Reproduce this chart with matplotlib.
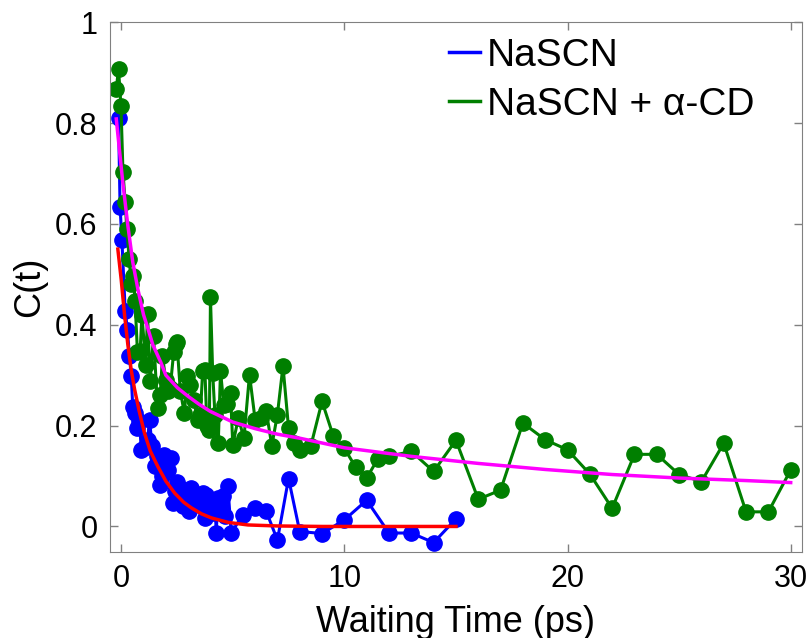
import matplotlib
matplotlib.use("Agg")
import matplotlib.pyplot as plt
from matplotlib.lines import Line2D

plt.rcParams['font.family'] = ['Liberation Sans', 'DejaVu Sans']

# NaSCN data
t_na = [-0.12, -0.05, 0.03, 0.18, 0.28, 0.37, 0.45, 0.52, 0.62, 0.73, 0.82, 0.9,
        1.0, 1.18, 1.27, 1.38, 1.5, 1.6, 1.72, 1.83, 1.94, 2.08, 2.24, 2.32, 2.42,
        2.52, 2.65, 2.75, 2.91, 3.02, 3.14, 3.25, 3.4, 3.55, 3.65, 3.74, 3.8, 3.95,
        4.1, 4.2, 4.26, 4.33, 4.45, 4.55, 4.63, 4.78, 4.93, 5.45, 6.0, 6.5, 7.0,
        7.5, 8.0, 9.0, 10.0, 11.0, 12.0, 13.0, 14.0, 15.0]
c_na = [0.81, 0.634, 0.569, 0.428, 0.39, 0.338, 0.299, 0.236, 0.225, 0.196, 0.21, 0.152,
        0.155, 0.172, 0.212, 0.16, 0.119, 0.14, 0.083, 0.1, 0.142, 0.112, 0.136, 0.047, 0.07,
        0.089, 0.076, 0.04, 0.06, 0.03, 0.076, 0.05, 0.056, 0.043, 0.066, 0.017, 0.063, 0.045,
        0.027, 0.05, -0.013, 0.056, 0.04, 0.06, 0.02, 0.08, -0.013, 0.023, 0.036, 0.03, -0.027,
        0.095, -0.01, -0.014, 0.013, 0.052, -0.013, -0.013, -0.032, 0.015]

# NaSCN + alpha-CD data
t_cd = [-0.22, -0.12, -0.01, 0.08, 0.18, 0.25, 0.36, 0.45, 0.55, 0.62, 0.73, 0.85,
        0.93, 1.1, 1.18, 1.3, 1.45, 1.63, 1.75, 1.85, 2.0, 2.08, 2.2, 2.35, 2.45,
        2.5, 2.65, 2.83, 2.97, 3.1, 3.25, 3.42, 3.55, 3.65, 3.75, 3.84, 3.95, 4.0,
        4.1, 4.2, 4.35, 4.45, 4.6, 4.74, 4.9, 5.0, 5.25, 5.5, 5.75, 6.0, 6.25, 6.5,
        6.75, 7.0, 7.25, 7.5, 7.75, 8.0, 8.5, 9.0, 9.5, 10.0, 10.5, 11.0, 11.5, 12.0,
        13.0, 14.0, 15.0, 16.0, 17.0, 18.0, 19.0, 20.0, 21.0, 22.0, 23.0, 24.0, 25.0,
        26.0, 27.0, 28.0, 29.0, 30.0]
c_cd = [0.867, 0.908, 0.834, 0.703, 0.643, 0.59, 0.53, 0.481, 0.496, 0.447, 0.345, 0.348,
        0.42, 0.321, 0.421, 0.289, 0.378, 0.235, 0.26, 0.338, 0.29, 0.268, 0.275, 0.345, 0.361,
        0.365, 0.268, 0.225, 0.298, 0.28, 0.25, 0.212, 0.222, 0.308, 0.311, 0.2, 0.192, 0.454,
        0.305, 0.222, 0.165, 0.308, 0.24, 0.242, 0.265, 0.162, 0.215, 0.175, 0.301, 0.212, 0.215,
        0.229, 0.16, 0.222, 0.318, 0.195, 0.165, 0.152, 0.16, 0.248, 0.18, 0.155, 0.118, 0.096,
        0.134, 0.139, 0.149, 0.109, 0.171, 0.054, 0.072, 0.205, 0.172, 0.152, 0.104, 0.036,
        0.143, 0.143, 0.103, 0.089, 0.165, 0.029, 0.029, 0.112]

# fit curves
t_fit_na = [-0.15, 0.0, 0.15, 0.3, 0.45, 0.6, 0.8, 1.04, 1.3, 1.64, 2.0, 2.4, 2.8,
            3.14, 3.6, 4.04, 4.8, 5.68, 7.0, 9.0, 15.0]
c_fit_na = [0.55, 0.49, 0.42, 0.36, 0.31, 0.272, 0.23, 0.186, 0.15, 0.119, 0.09, 0.066,
            0.048, 0.037, 0.025, 0.017, 0.008, 0.003, 0.001, 0.0, 0.0]
t_fit_cd = [-0.22, 0.07, 0.3, 0.52, 0.75, 1.0, 1.18, 1.42, 1.78, 2.0, 2.52, 3.0, 3.5,
            4.0, 5.0, 6.0, 7.0, 8.0, 10.0, 13.0, 16.0, 19.0, 22.0, 25.0, 28.0, 30.0]
c_fit_cd = [0.808, 0.683, 0.596, 0.524, 0.47, 0.42, 0.395, 0.36, 0.325, 0.30, 0.275, 0.258,
            0.242, 0.228, 0.207, 0.194, 0.183, 0.175, 0.156, 0.139, 0.125, 0.113, 0.103,
            0.096, 0.091, 0.087]

fig = plt.figure(figsize=(8.12, 6.38), dpi=100)
ax = fig.add_axes([0.1355, 0.1353, 0.852, 0.830])

blue = '#0000ff'
green = '#007f00'
ax.plot(t_na, c_na, '-o', color=blue, lw=2.2, ms=11)
ax.plot(t_cd, c_cd, '-o', color=green, lw=2.2, ms=11)
ax.plot(t_fit_na, c_fit_na, '-', color='#ff0000', lw=2.5)
ax.plot(t_fit_cd, c_fit_cd, '-', color='#ff00ff', lw=2.5)

ax.set_xlim(-0.5, 30.5)
ax.set_ylim(-0.05, 1.0)
ax.set_xticks([0, 10, 20, 30])
ax.set_yticks([0, 0.2, 0.4, 0.6, 0.8, 1.0])
ax.set_yticklabels(['0', '0.2', '0.4', '0.6', '0.8', '1'])
ax.tick_params(direction='in', length=6, width=1, color='#808080',
               labelsize=22, top=True, right=True, pad=9)
for s in ax.spines.values():
    s.set_color('#808080')
ax.set_xlabel('Waiting Time (ps)', fontsize=26, labelpad=8)
ax.set_ylabel('C(t)', fontsize=26, labelpad=6)

handles = [Line2D([], [], color=blue, lw=2.5), Line2D([], [], color=green, lw=2.5)]
ax.legend(handles, ['NaSCN', 'NaSCN + α-CD'], loc='upper left',
          bbox_to_anchor=(0.553, 0.9405), bbox_transform=fig.transFigure,
          frameon=False, fontsize=28, handlelength=0.8, handletextpad=0.18,
          borderpad=0, borderaxespad=0, labelspacing=0.33)

fig.savefig('out.png', dpi=100)
